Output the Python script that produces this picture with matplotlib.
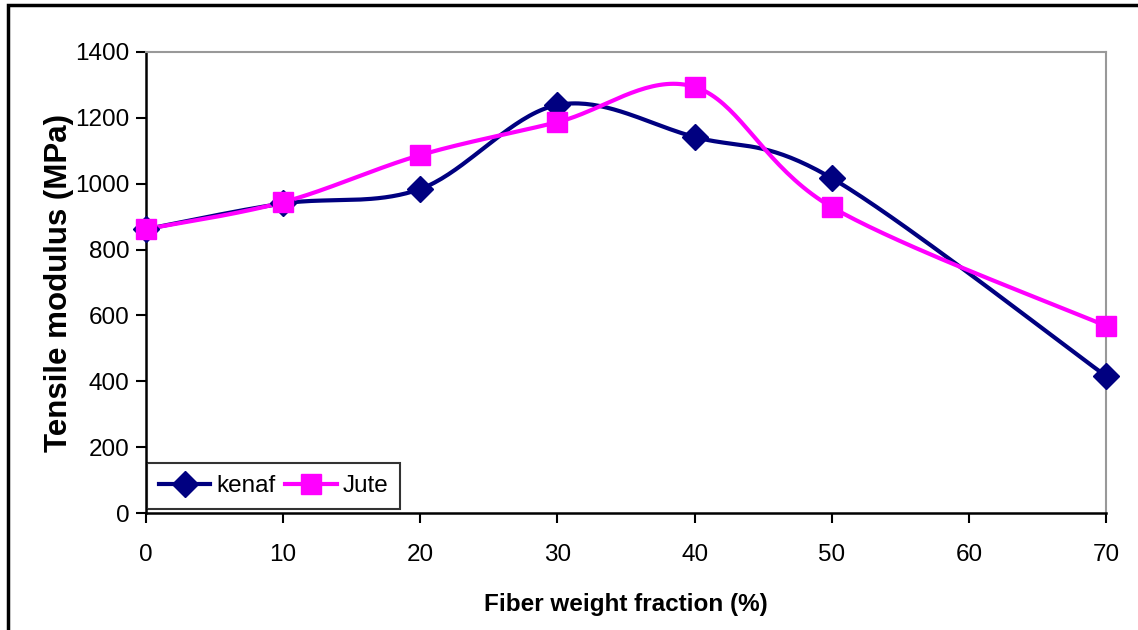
import numpy as np
import matplotlib
matplotlib.use("Agg")
import matplotlib.pyplot as plt
from matplotlib.patches import Rectangle
from matplotlib.lines import Line2D

plt.rcParams['font.family'] = ['Liberation Sans', 'DejaVu Sans']

fiber = [0, 10, 20, 30, 40, 50, 70]
kenaf = [862, 940, 984, 1239, 1142, 1017, 416]
jute = [862, 944, 1087, 1187, 1294, 929, 568]
xticks = [0, 10, 20, 30, 40, 50, 60, 70]
yticks = [0, 200, 400, 600, 800, 1000, 1200, 1400]


def smooth(x, y, n=40):
    """Excel-style smoothed line: cubic Bezier segments through the points."""
    p = np.column_stack([x, y]).astype(float)
    ext = np.vstack([p[0], p, p[-1]])
    out = []
    t = np.linspace(0, 1, n)[:, None]
    for i in range(len(p) - 1):
        p0 = ext[i + 1]
        p3 = ext[i + 2]
        c1 = p0 + (ext[i + 2] - ext[i]) / 6.0
        c2 = p3 - (ext[i + 3] - ext[i + 1]) / 6.0
        seg = ((1 - t) ** 3) * p0 + 3 * ((1 - t) ** 2) * t * c1 + 3 * (1 - t) * t ** 2 * c2 + t ** 3 * p3
        out.append(seg if i == 0 else seg[1:])
    s = np.vstack(out)
    return s[:, 0], s[:, 1]


W, H, DPI = 1138, 630, 100
fig = plt.figure(figsize=(W / DPI, H / DPI), dpi=DPI)
ax = fig.add_axes([146 / W, 1 - 513 / H, (1106 - 146) / W, (513 - 52) / H])

navy = '#000080'
magenta = '#FF00FF'

kx, ky = smooth(fiber, kenaf)
jx, jy = smooth(fiber, jute)
ax.plot(kx, ky, color=navy, lw=3, solid_capstyle='round', zorder=3, clip_on=False)
ax.plot(jx, jy, color=magenta, lw=3, solid_capstyle='round', zorder=4, clip_on=False)
ax.plot(fiber, kenaf, ls='none', marker='D', ms=13, color=navy, zorder=5, clip_on=False)
ax.plot(fiber, jute, ls='none', marker='s', ms=14, color=magenta, zorder=6, clip_on=False)

ax.set_xlim(0, 70)
ax.set_ylim(0, 1400)
ax.set_xticks(xticks)
ax.set_yticks(yticks)
ax.tick_params(direction='out', length=7, width=1.5, labelsize=17.5, pad=5, color='black')
ax.tick_params(axis='x', pad=15)
for side in ['top', 'right']:
    ax.spines[side].set_color('#999999')
    ax.spines[side].set_linewidth(1.5)
for side in ['left', 'bottom']:
    ax.spines[side].set_color('black')
    ax.spines[side].set_linewidth(1.8)

ax.set_xlabel('Fiber weight fraction (%)', fontsize=17.5, fontweight='bold', labelpad=20)
ax.set_ylabel('Tensile modulus (MPa)', fontsize=22.5, fontweight='bold', labelpad=1)

handles = [
    Line2D([], [], color=navy, lw=3, marker='D', ms=13),
    Line2D([], [], color=magenta, lw=3, marker='s', ms=14),
]
leg = ax.legend(handles, ['kenaf', 'Jute'], loc='lower left', bbox_to_anchor=(0.0, 0.005),
                ncol=2, fontsize=17.5, frameon=True, fancybox=False, handlelength=2.1,
                handletextpad=0.25, columnspacing=0.4, borderpad=0.5, borderaxespad=0.05)
leg.get_frame().set_edgecolor('black')
leg.get_frame().set_linewidth(1.5)

# outer chart frame (left and top visible, right/bottom cut off)
fig.patches.append(Rectangle((8 / W, -0.05), 1.1, 1 - 5 / H + 0.05, transform=fig.transFigure,
                             fill=False, edgecolor='black', lw=2.5))

fig.savefig('out.png', dpi=DPI)
